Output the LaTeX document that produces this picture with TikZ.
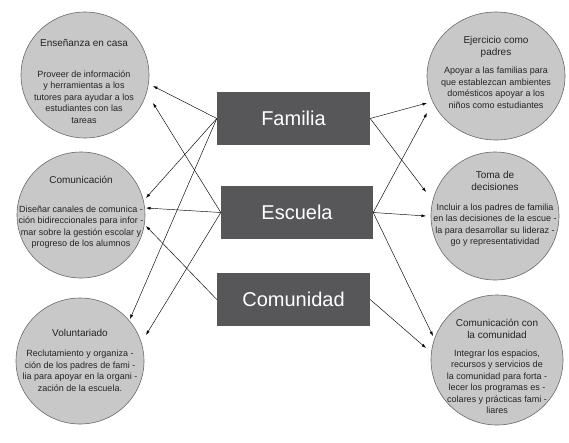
\documentclass[tikz,border=0pt]{standalone}
\usepackage{fontspec}
\setmainfont{Liberation Sans}
\usetikzlibrary{shapes.geometric,arrows.meta}
\definecolor{boxgray}{RGB}{87,87,89}
\definecolor{circgray}{RGB}{200,200,200}
\definecolor{rimgray}{RGB}{105,105,105}
\definecolor{inkgray}{RGB}{35,35,35}
\begin{document}
\begin{tikzpicture}[x=1pt,y=-1pt,font=\fontsize{9}{11.5}\selectfont,
    area/.style={ellipse,draw=rimgray,fill=circgray,line width=0.6pt,inner sep=0pt},
    actor/.style={fill=boxgray,text=white,minimum width=153pt,minimum height=53pt,
        inner sep=0pt,font=\fontsize{20}{24}\selectfont},
    head/.style={align=center,text=inkgray,font=\fontsize{10}{12.5}\selectfont},
    body/.style={align=center,text=inkgray,inner sep=1pt},
    arr/.style={-{Latex[length=4.5pt,width=3pt]},line width=0.45pt}]
    \useasboundingbox (0,0) rectangle (569,442);

    \node[area,minimum width=128pt,minimum height=126pt] (ens) at (85,75) {};
    \node[area,minimum width=128pt,minimum height=126pt] (comu) at (81,215) {};
    \node[area,minimum width=128pt,minimum height=126pt] (vol) at (80,361) {};
    \node[area,minimum width=138pt,minimum height=128pt] (eje) at (496,76) {};
    \node[area,minimum width=128pt,minimum height=128pt] (toma) at (495,216) {};
    \node[area,minimum width=132pt,minimum height=130pt] (comc) at (497,360) {};

    \node[head] (ensT) at (84,43) {Enseñanza en casa};
    \node[body] (ensB) at (84,97)
        {Proveer de información\\y herramientas a los\\tutores para ayudar a los\\
         estudiantes con las\\tareas};
    \node[head] (comuT) at (81,180) {Comunicación};
    \node[body] (comuB) at (81,227)
        {Diseñar canales de comunica -\\ción bidireccionales para infor -\\
         mar sobre la gestión escolar y\\progreso de los alumnos};
    \node[head] (volT) at (80,333) {Voluntariado};
    \node[body] (volB) at (80,371)
        {Reclutamiento y organiza -\\ción de los padres de fami -\\
         lia para apoyar en la organi -\\zación de la escuela.};
    \node[head] (ejeT) at (496,47) {Ejercicio como\\padres};
    \node[body] (ejeB) at (496,88)
        {Apoyar a las familias para\\que establezcan ambientes\\
         domésticos apoyar a los\\niños como estudiantes};
    \node[head] (tomaT) at (495,181) {Toma de\\decisiones};
    \node[body] (tomaB) at (495,225)
        {Incluir a los padres de familia\\en las decisiones de la escue -\\
         la para desarrollar su lideraz -\\go y representatividad};
    \node[head] (comcT) at (497,329) {Comunicación con\\la comunidad};
    \node[body] (comcB) at (497,382)
        {Integrar los espacios,\\recursos y servicios de\\la comunidad para forta -\\
         lecer los programas es -\\colares y prácticas fami -\\liares};

    \node[actor] (fam) at (293.5,118.5) {Familia};
    \node[actor,minimum width=152pt] (esc) at (297,212.5) {Escuela};
    \node[actor] (com) at (293.5,299.5) {Comunidad};

    \coordinate (ensA) at (153,86);
    \coordinate (ensB) at (153,103);
    \coordinate (comuA) at (146,198);
    \coordinate (comuB) at (146,208);
    \coordinate (comuC) at (146,226);
    \coordinate (volA) at (130,319);
    \coordinate (volB) at (146,335);
    \coordinate (ejeA) at (427,103);
    \coordinate (ejeB) at (427,113);
    \coordinate (tomaA) at (426,192);
    \coordinate (tomaB) at (426,216);
    \coordinate (comcA) at (433,336);
    \coordinate (comcB) at (426,348);

    \draw[arr] (fam.west) -- (ensA);
    \draw[arr] (esc.west) -- (ensB);
    \draw[arr] (fam.west) -- (comuA);
    \draw[arr] (esc.west) -- (comuB);
    \draw[arr] (com.west) -- (comuC);
    \draw[arr] (fam.west) -- (volA);
    \draw[arr] (esc.west) -- (volB);
    \draw[arr] (fam.east) -- (ejeA);
    \draw[arr] (esc.east) -- (ejeB);
    \draw[arr] (fam.east) -- (tomaA);
    \draw[arr] (esc.east) -- (tomaB);
    \draw[arr] (esc.east) -- (comcA);
    \draw[arr] (com.east) -- (comcB);
\end{tikzpicture}
\end{document}
